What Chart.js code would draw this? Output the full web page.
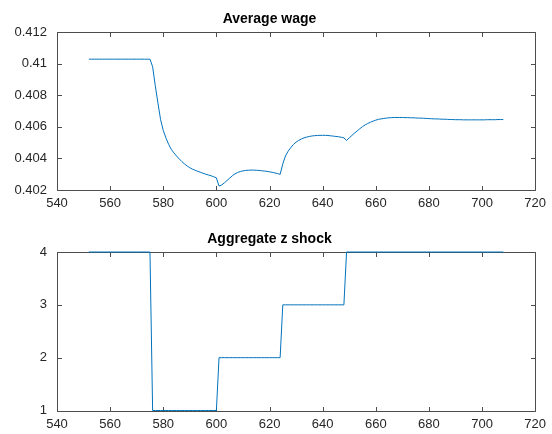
<!DOCTYPE html>
<html>
<head>
<meta charset="utf-8">
<script src="https://cdn.jsdelivr.net/npm/chart.js@4"></script>
<style>
  html, body { margin: 0; padding: 0; background: #fff; }
  #wrap { position: relative; width: 552px; height: 434px; }
  .box { position: absolute; left: 0; width: 552px; }
</style>
</head>
<body>
<div id="wrap">
  <div class="box" style="top:0;height:220px"><canvas id="wageChart"></canvas></div>
  <div class="box" style="top:220px;height:214px"><canvas id="shockChart"></canvas></div>
</div>
<script>
// periods start at 552, one value per period up to 708
const firstPeriod = 552;

const wageValues = [
  0.41028, 0.41028, 0.41028, 0.41028, 0.41028, 0.41028, 0.41028, 0.41028, 0.41028, 0.41028, 0.41028, 0.41028,
  0.41028, 0.41028, 0.41028, 0.41028, 0.41028, 0.41028, 0.41028, 0.41028, 0.41028, 0.41028, 0.41028, 0.41028,
  0.40980, 0.40860, 0.40750, 0.40645, 0.40577, 0.40530, 0.40490, 0.40458, 0.40435, 0.40415,
  0.40397, 0.40380, 0.40365, 0.40352, 0.40341, 0.40332, 0.40325, 0.40318, 0.40312, 0.40306,
  0.40300, 0.40295, 0.40290, 0.40284, 0.40277, 0.40225, 0.40232, 0.40245, 0.40260, 0.40275,
  0.40290, 0.40302, 0.40311, 0.40317, 0.40321, 0.40324, 0.40325, 0.40326, 0.40326, 0.40325,
  0.40324, 0.40322, 0.40320, 0.40318, 0.40315, 0.40312, 0.40308, 0.40304, 0.40299, 0.40365,
  0.40415, 0.40445, 0.40468, 0.40488, 0.40503, 0.40514, 0.40523, 0.40530, 0.40535, 0.40539,
  0.40542, 0.40544, 0.40545, 0.40546, 0.40546, 0.40546, 0.40545, 0.40543, 0.40541, 0.40539,
  0.40537, 0.40534, 0.40530, 0.40513, 0.40530, 0.40545, 0.40560, 0.40574, 0.40588, 0.40601,
  0.40612, 0.40621, 0.40629, 0.40636, 0.40642, 0.40647, 0.40650, 0.40653, 0.40655, 0.40657,
  0.40658, 0.40659, 0.40659, 0.40659, 0.40659, 0.40658, 0.40658, 0.40657, 0.40657, 0.40656,
  0.40655, 0.40655, 0.40654, 0.40653, 0.40652, 0.40651, 0.40650, 0.40650, 0.40649, 0.40648,
  0.40648, 0.40647, 0.40646, 0.40646, 0.40645, 0.40645, 0.40645, 0.40644, 0.40644, 0.40644,
  0.40644, 0.40644, 0.40644, 0.40644, 0.40644, 0.40644, 0.40645, 0.40645, 0.40645, 0.40645,
  0.40646, 0.40646, 0.40646
];

const shockValues = [
  4, 4, 4, 4, 4, 4, 4, 4, 4, 4, 4, 4, 4, 4, 4, 4, 4, 4, 4, 4, 4, 4, 4, 4,
  1, 1, 1, 1, 1, 1, 1, 1, 1, 1, 1, 1, 1, 1, 1, 1, 1, 1, 1, 1, 1, 1, 1, 1, 1,
  2, 2, 2, 2, 2, 2, 2, 2, 2, 2, 2, 2, 2, 2, 2, 2, 2, 2, 2, 2, 2, 2, 2, 2,
  3, 3, 3, 3, 3, 3, 3, 3, 3, 3, 3, 3, 3, 3, 3, 3, 3, 3, 3, 3, 3, 3, 3, 3,
  4, 4, 4, 4, 4, 4, 4, 4, 4, 4, 4, 4, 4, 4, 4, 4, 4, 4, 4, 4,
  4, 4, 4, 4, 4, 4, 4, 4, 4, 4, 4, 4, 4, 4, 4, 4, 4, 4, 4, 4,
  4, 4, 4, 4, 4, 4, 4, 4, 4, 4, 4, 4, 4, 4, 4, 4, 4, 4, 4, 4
];

const xTicks = [540, 560, 580, 600, 620, 640, 660, 680, 700, 720];
const wageTicks = [0.402, 0.404, 0.406, 0.408, 0.41, 0.412];
const shockTicks = [1, 2, 3, 4];

const lineColor = '#0072BD';
const axisColor = '#4d4d4d';
const textColor = '#262626';
const fontFamily = '"Liberation Sans", Arial, Helvetica, sans-serif';

// MATLAB style box with inward ticks on all four sides
const boxTicks = {
  id: 'boxTicks',
  beforeDatasetsDraw(chart) {
    const ctx = chart.ctx;
    const a = chart.chartArea;
    const len = 4.5;
    const l = Math.round(a.left) + 0.5, r = Math.round(a.right) + 0.5;
    const t = Math.round(a.top) + 0.5, b = Math.round(a.bottom) + 0.5;
    ctx.save();
    ctx.strokeStyle = axisColor;
    ctx.lineWidth = 1;
    ctx.beginPath();
    ctx.rect(l, t, r - l, b - t);
    chart.scales.x.ticks.forEach(tk => {
      const px = Math.round(chart.scales.x.getPixelForValue(tk.value)) + 0.5;
      ctx.moveTo(px, b); ctx.lineTo(px, b - len);
      ctx.moveTo(px, t); ctx.lineTo(px, t + len);
    });
    chart.scales.y.ticks.forEach(tk => {
      const py = Math.round(chart.scales.y.getPixelForValue(tk.value)) + 0.5;
      ctx.moveTo(l, py); ctx.lineTo(l + len, py);
      ctx.moveTo(r, py); ctx.lineTo(r - len, py);
    });
    ctx.stroke();
    ctx.restore();
  }
};

function makeChart(id, title, values, yTicks, xAxisHeight) {
  const points = values.map((v, i) => ({ x: firstPeriod + i, y: v }));
  return new Chart(document.getElementById(id), {
    type: 'line',
    data: {
      datasets: [{
        data: points,
        borderColor: lineColor,
        borderWidth: 1,
        pointRadius: 0,
        tension: 0,
        fill: false,
        clip: false
      }]
    },
    options: {
      responsive: true,
      maintainAspectRatio: false,
      animation: false,
      layout: { padding: { left: 0, right: 13, top: 0, bottom: 0 } },
      plugins: {
        legend: { display: false },
        tooltip: { enabled: false },
        title: {
          display: true,
          text: title,
          color: '#000',
          font: { family: fontFamily, size: 14, weight: 'bold', lineHeight: 1.2 },
          padding: { top: 10.5, bottom: 4.7 }
        }
      },
      scales: {
        x: {
          type: 'linear',
          min: xTicks[0],
          max: xTicks[xTicks.length - 1],
          afterBuildTicks: s => { s.ticks = xTicks.map(v => ({ value: v })); },
          afterFit: s => { s.height = xAxisHeight; },
          grid: { display: false, drawTicks: false },
          border: { display: false },
          ticks: {
            padding: 6,
            maxRotation: 0,
            autoSkip: false,
            color: textColor,
            font: { family: fontFamily, size: 13 },
            callback: v => String(v)
          }
        },
        y: {
          type: 'linear',
          min: yTicks[0],
          max: yTicks[yTicks.length - 1],
          afterBuildTicks: s => { s.ticks = yTicks.map(v => ({ value: v })); },
          afterFit: s => { s.width = 57; },
          grid: { display: false, drawTicks: false },
          border: { display: false },
          ticks: {
            padding: 10,
            autoSkip: false,
            color: textColor,
            font: { family: fontFamily, size: 13 },
            callback: v => String(+Number(v).toFixed(3))
          }
        }
      }
    },
    plugins: [boxTicks]
  });
}

makeChart('wageChart', 'Average wage', wageValues, wageTicks, 30);
makeChart('shockChart', 'Aggregate z shock', shockValues, shockTicks, 23.5);
</script>
</body>
</html>
